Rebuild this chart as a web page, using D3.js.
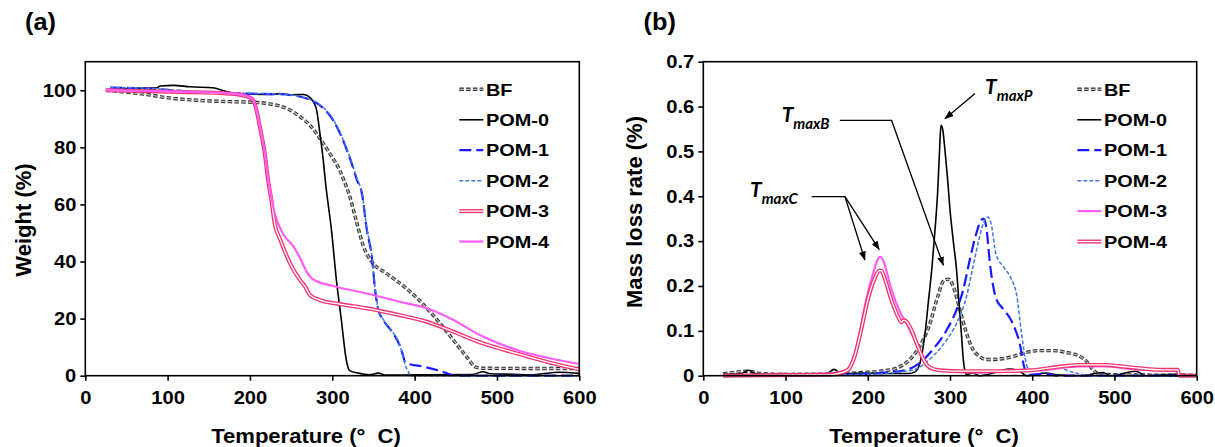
<!DOCTYPE html>
<html>
<head>
<meta charset="utf-8">
<script src="https://cdn.jsdelivr.net/npm/d3@7"></script>
<style>
  body { margin: 0; background: #fff; }
  svg text { font-family: "Liberation Sans", Arial, sans-serif; font-weight: bold; fill: #000; }
  svg text.note { font-family: Lato, "Open Sans", sans-serif; font-style: italic; font-weight: bold; }
</style>
</head>
<body>
<script>
'use strict';

// tick values
const tempTicks = [0, 100, 200, 300, 400, 500, 600];
const weightTicks = [0, 20, 40, 60, 80, 100];
const rateTicks = [0, 0.1, 0.2, 0.3, 0.4, 0.5, 0.6, 0.7];
const seriesNames = ['BF', 'POM-0', 'POM-1', 'POM-2', 'POM-3', 'POM-4'];

// (a) weight (%) against temperature, [T, weight]
const tgaBF = [[25,100],[40,99.6],[58,99.1],[75,98.5],[99,97.4],[135,96.5],[176,96],[204,95.8],[228,95],
  [245,93.6],[261,90.7],[273,87.7],[285,83.1],[297,77.8],[309,72],[314,68.5],[321,63],[330,53.3],[338,45.2],
  [348,39.9],[366,35.8],[390,30.6],[415,23.6],[431,18.3],[447,12.5],[463,6.7],[475,2.9],[485,2.6],[600,2.5]];
const tgaPOM0 = [[25,100],[54,100.6],[87,100.9],[91,101.5],[107,101.7],[127,101.2],[155,100.9],[168,99.8],
  [184,98.8],[204,98.6],[224,98.5],[236,98.8],[252,98.4],[265,98.5],[273,97.4],[277,95.9],[281,93],[285,84.8],
  [289,75.5],[292,67],[299,51],[305,33.5],[311,19.5],[317,5.5],[321,1.8],[330,1],[345,0.3],[356,0.9],[365,0.2],
  [400,0.3],[470,0.4],[483,1.4],[492,0.7],[520,0.5],[540,0.3],[576,1.2],[600,0.8]];
const tgaPOM1 = [[30,100.9],[75,100.6],[135,99.4],[199,98.8],[236,98.6],[269,97.1],[285,94.7],[301,89.5],
  [313,82.5],[325,73.1],[330,68.5],[336,63.8],[342,51],[348,41.7],[352,30],[356,23],[362,19.5],[374,14.8],
  [382,10.5],[386,7],[388,5],[392,4.2],[410,3.2],[430,1.8],[450,0],[600,0]];
const tgaPOM2 = [[30,101],[75,100.7],[135,99.5],[199,98.9],[236,98.7],[269,97.2],[285,94.9],[301,89.8],
  [313,82.8],[325,73.5],[330,69],[336,64],[342,51.5],[348,42],[352,30.5],[356,23.3],[362,19.7],[374,15],
  [382,10.8],[386,6.5],[389,3.5],[393,1],[396,0],[600,0]];
const tgaPOM3 = [[25,100],[115,99.4],[176,98.8],[192,98.2],[200,97.4],[204,96.5],[208,93],[212,87.2],[218,77.8],
  [222,68.5],[226,61.5],[230,53.3],[237,47.5],[245,41.7],[253,37],[261,33.5],[267,31.2],[273,28.2],[285,26.5],
  [309,25.1],[342,23.6],[382,21.2],[415,18.9],[447,15.4],[483,11.3],[524,7.8],[564,4.6],[600,2.2]];
const tgaPOM4 = [[25,100],[115,99.5],[176,98.9],[192,98.3],[200,97.5],[204,96.6],[208,93.2],[212,87.5],[218,78.3],
  [222,69.2],[226,62.5],[230,57],[240,49.8],[253,45.2],[261,41.1],[269,36.4],[277,33.7],[301,31.4],[342,28.8],
  [382,25.9],[415,23.6],[443,20.1],[483,13.7],[524,9],[564,6.1],[600,4.1]];

// (b) mass loss rate (%) against temperature, [T, rate]
const dtgBF = [[24,0.004],[40,0.008],[53,0.01],[70,0.005],[93,0.003],[154,0.004],[194,0.007],[215,0.01],
  [235,0.017],[251,0.036],[263,0.065],[275,0.113],[285,0.176],[293,0.213],[298,0.215],[304,0.199],[312,0.147],
  [320,0.095],[328,0.058],[336,0.043],[344,0.036],[360,0.037],[377,0.043],[393,0.052],[409,0.056],[425,0.056],
  [441,0.052],[458,0.043],[466,0.032],[474,0.013],[482,0.004],[500,0.002],[600,0.001]];
const dtgPOM0 = [[24,0.003],[45,0.004],[55,0.012],[63,0.005],[80,0.003],[96,0.005],[105,0.004],[130,0.002],
  [150,0.004],[159,0.014],[168,0.004],[190,0.006],[215,0.005],[250,0.005],[257,0.008],[262,0.02],[266,0.05],
  [270,0.1],[274,0.17],[278,0.24],[282,0.33],[285,0.41],[287,0.49],[289,0.558],[291,0.55],[294,0.5],[297,0.44],
  [300,0.37],[304,0.3],[308,0.235],[311,0.16],[314,0.09],[316,0.04],[318,0.012],[320,0.003],[328,0.006],
  [336,0],[360,0.01],[372,0.015],[385,0.01],[393,0],[417,0.006],[430,0.002],[460,0],[486,0.007],[495,0],
  [526,0.01],[538,0],[575,0.003],[600,0]];
const dtgPOM1 = [[24,0],[100,0.001],[200,0.004],[215,0.006],[247,0.013],[263,0.028],[279,0.058],[296,0.102],
  [308,0.147],[316,0.191],[324,0.258],[332,0.317],[338,0.347],[341,0.35],[344,0.332],[349,0.243],[356,0.172],
  [364,0.15],[373,0.128],[380,0.1],[385,0.07],[390,0.021],[395,0.002],[417,0.004],[430,0],[600,0]];
const dtgPOM2 = [[24,0],[100,0.001],[200,0.003],[255,0.013],[279,0.043],[296,0.08],[308,0.117],[320,0.176],
  [328,0.243],[336,0.31],[342,0.347],[346,0.354],[350,0.339],[356,0.27],[365,0.243],[374,0.218],[381,0.18],
  [387,0.095],[393,0.025],[397,0.013],[417,0.017],[429,0.021],[441,0.013],[457,0.004],[474,0],[600,0]];
const dtgPOM3 = [[24,0],[93,0.001],[134,0.004],[162,0.006],[174,0.013],[182,0.036],[190,0.095],[198,0.169],
  [206.5,0.228],[212.6,0.261],[215.4,0.265],[219.4,0.254],[226.7,0.206],[234.8,0.161],[241,0.136],[247,0.117],
  [255,0.087],[263,0.058],[271,0.024],[279,0.013],[296,0.01],[336,0.007],[376,0.01],[417,0.013],[457,0.021],
  [490,0.021],[518,0.015],[575,0.01],[579,0],[600,0]];
const dtgPOM4 = [[24,0],[154,0.002],[166,0.006],[176,0.013],[184,0.043],[192,0.102],[200,0.169],[208.5,0.217],
  [213.8,0.234],[216.6,0.234],[220.6,0.217],[228.7,0.169],[236.8,0.132],[241,0.119],[243.7,0.124],[247,0.121],
  [253,0.102],[261,0.065],[269,0.032],[275,0.019],[287.5,0.012],[316,0.01],[356,0.01],[397,0.012],[437,0.021],
  [457,0.024],[486,0.024],[518,0.019],[559,0.013],[577,0.013],[579,0],[600,0]];

// line looks; a list means strokes drawn on top of each other
const styles = {
  bf: [{stroke: '#333', width: 3.4, dash: '4.5,2.3'}, {stroke: '#bbb', width: 1.3, dash: '4.5,2.3'}],
  black: [{stroke: '#000', width: 1.6}],
  blue: [{stroke: '#1a1aff', width: 2.2, dash: '12,5'}],
  lightblue: [{stroke: '#3f78d8', width: 1.5, dash: '4,2'}],
  red: [{stroke: '#f2346f', width: 4}, {stroke: '#fff', width: 1.3}],
  magenta: [{stroke: '#ff5ef5', width: 2.2}]
};

const svg = d3.select('body').append('svg')
    .attr('width', 1215)
    .attr('height', 447);

const defs = svg.append('defs');
defs.append('marker')
    .attr('id', 'arrow')
    .attr('markerUnits', 'userSpaceOnUse')
    .attr('markerWidth', 9).attr('markerHeight', 7)
    .attr('refX', 8.5).attr('refY', 3.5)
    .attr('orient', 'auto')
  .append('path')
    .attr('d', 'M0,0 L9,3.5 L0,7 Z')
    .attr('fill', '#000');

// text with a slight horizontal stretch, like the source figure
function label(g, x, y, txt, size, anchor, sx) {
  return g.append('text')
      .attr('transform', 'translate(' + x + ',' + y + ') scale(' + sx + ',1)')
      .attr('text-anchor', anchor)
      .style('font-size', size + 'px')
      .text(txt);
}

function drawPanel(p) {
  const x = d3.scaleLinear().domain([0, 600]).range([p.left, p.left + p.width]);
  const y = d3.scaleLinear().domain(p.yDomain).range([p.top + p.height, p.top]);
  const g = svg.append('g');

  const line = d3.line()
      .x(function (d) { return x(d[0]); })
      .y(function (d) { return y(d[1]); })
      .curve(d3.curveMonotoneX);

  p.series.forEach(function (s) {
    styles[s.style].forEach(function (st) {
      g.append('path')
          .datum(s.data)
          .attr('d', line)
          .attr('fill', 'none')
          .attr('stroke', st.stroke)
          .attr('stroke-width', st.width)
          .attr('stroke-dasharray', st.dash || null)
          .attr('stroke-linejoin', 'round');
    });
  });

  g.append('rect')
      .attr('x', p.left).attr('y', p.top)
      .attr('width', p.width).attr('height', p.height)
      .attr('fill', 'none')
      .attr('stroke', '#000')
      .attr('stroke-width', 1.6);

  // x axis
  const gx = g.append('g')
      .attr('transform', 'translate(0,' + (p.top + p.height) + ')')
      .call(d3.axisBottom(x).tickValues(tempTicks).tickSize(5).tickSizeOuter(0).tickPadding(11));
  gx.select('.domain').remove();
  gx.selectAll('line').attr('stroke-width', 1.6);
  gx.selectAll('text')
      .attr('transform', 'scale(1.12,1)')
      .style('font-size', '18px');

  // y axis
  const gy = g.append('g')
      .attr('transform', 'translate(' + p.left + ',0)')
      .call(d3.axisLeft(y).tickValues(p.yTicks).tickFormat(p.yFormat).tickSize(5).tickSizeOuter(0).tickPadding(3));
  gy.select('.domain').remove();
  gy.selectAll('line').attr('stroke-width', 1.6);
  gy.selectAll('text')
      .attr('transform', 'scale(1.12,1)')
      .style('font-size', '18px');

  // titles
  label(g, p.xTitleX, 443, 'Temperature (°\u00a0\u00a0C)', 21, 'middle', 1.05);
  g.append('text')
      .attr('transform', 'translate(' + p.yTitleX + ',' + p.yTitleY + ') rotate(-90)')
      .attr('text-anchor', 'middle')
      .style('font-size', '22px')
      .text(p.yTitle);
  label(g, p.letterX, 30, p.letter, 23, 'start', 1.1);

  // legend
  p.series.forEach(function (s, i) {
    const cy = p.top + 27.6 + i * 30.45;
    const x0 = p.left + 374;
    styles[s.style].forEach(function (st) {
      g.append('line')
          .attr('x1', x0).attr('x2', x0 + 24)
          .attr('y1', cy).attr('y2', cy)
          .attr('stroke', st.stroke)
          .attr('stroke-width', st.width)
          .attr('stroke-dasharray', st.dash || null);
    });
    label(g, x0 + 26.7, cy + 6.2, s.name, 17, 'start', 1.17);
  });

  return {g: g, x: x, y: y};
}

const panelA = drawPanel({
  left: 85.3, top: 61.7, width: 494, height: 314,
  yDomain: [0, 110], yTicks: weightTicks, yFormat: d3.format('d'),
  yTitle: 'Weight (%)', yTitleX: 31, yTitleY: 220,
  xTitleX: 306, letter: '(a)', letterX: 25,
  series: [
    {name: seriesNames[0], data: tgaBF, style: 'bf'},
    {name: seriesNames[1], data: tgaPOM0, style: 'black'},
    {name: seriesNames[2], data: tgaPOM1, style: 'blue'},
    {name: seriesNames[3], data: tgaPOM2, style: 'lightblue'},
    {name: seriesNames[4], data: tgaPOM3, style: 'red'},
    {name: seriesNames[5], data: tgaPOM4, style: 'magenta'}
  ]
});

const panelB = drawPanel({
  left: 703.3, top: 61.7, width: 493.4, height: 314,
  yDomain: [0, 0.7], yTicks: rateTicks,
  yFormat: function (d) { return d === 0 ? '0' : d3.format('.1f')(d); },
  yTitle: 'Mass loss rate (%)', yTitleX: 642, yTitleY: 212,
  xTitleX: 924, letter: '(b)', letterX: 643.6,
  series: [
    {name: seriesNames[0], data: dtgBF, style: 'bf'},
    {name: seriesNames[1], data: dtgPOM0, style: 'black'},
    {name: seriesNames[2], data: dtgPOM1, style: 'blue'},
    {name: seriesNames[3], data: dtgPOM2, style: 'lightblue'},
    {name: seriesNames[4], data: dtgPOM3, style: 'magenta'},
    {name: seriesNames[5], data: dtgPOM4, style: 'red'}
  ]
});

// peak callouts in (b), placed in data units
const callouts = [
  {sub: 'maxP', at: [342.6, 0.629], paths: [[[330.4, 0.629], [293.9, 0.573]]]},
  {sub: 'maxB', at: [95.3, 0.566], paths: [[[166, 0.569], [229, 0.569], [291.9, 0.246]]]},
  {sub: 'maxC', at: [56.8, 0.399], paths: [[[131.8, 0.399], [172.3, 0.399], [196.5, 0.258]],
                                          [[172.3, 0.399], [214, 0.281]]]}
];

const bx = panelB.x, by = panelB.y;
const calloutLine = d3.line()
    .x(function (d) { return bx(d[0]); })
    .y(function (d) { return by(d[1]); });

callouts.forEach(function (c) {
  c.paths.forEach(function (pts) {
    panelB.g.append('path')
        .attr('d', calloutLine(pts))
        .attr('fill', 'none')
        .attr('stroke', '#000')
        .attr('stroke-width', 1.3)
        .attr('marker-end', 'url(#arrow)');
  });
  const t = panelB.g.append('text')
      .attr('class', 'note')
      .attr('x', bx(c.at[0]))
      .attr('y', by(c.at[1]))
      .style('font-size', '21px')
      .text('T');
  t.append('tspan')
      .attr('dy', 7)
      .style('font-size', '15px')
      .text(c.sub);
});
</script>
</body>
</html>
